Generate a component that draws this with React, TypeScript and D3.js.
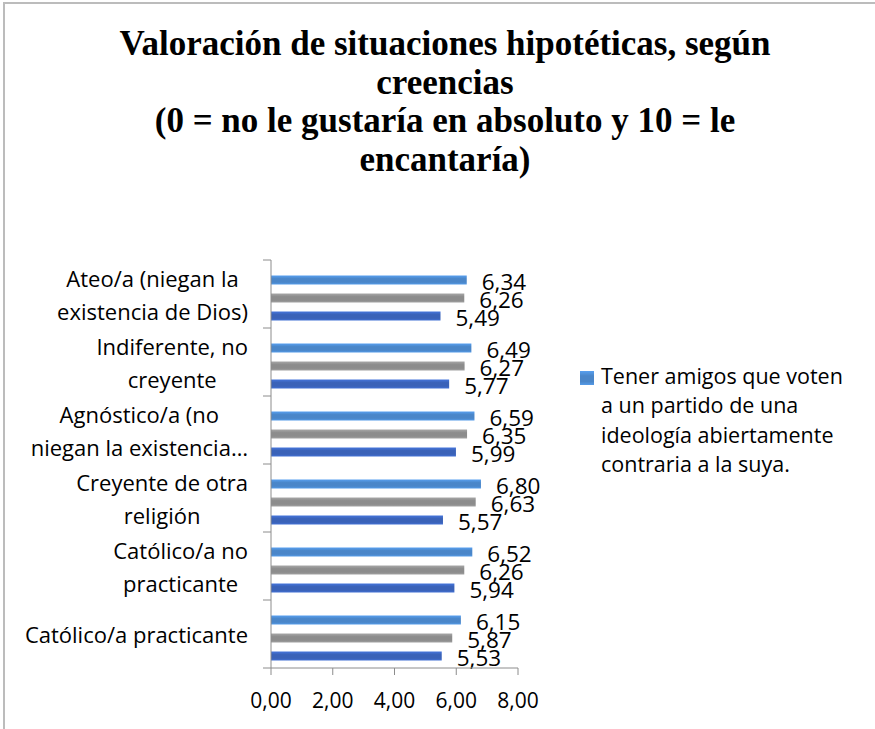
import { useEffect, useRef } from 'react';
import * as d3 from 'd3';

const W = 875;
const H = 729;

const titleLines = [
  'Valoración de situaciones hipotéticas, según',
  'creencias',
  '(0 = no le gustaría en absoluto y 10 = le',
  'encantaría)',
];

const categories = [
  'Ateo/a (niegan la existencia de Dios)',
  'Indiferente, no creyente',
  'Agnóstico/a (no niegan la existencia de Dios)',
  'Creyente de otra religión',
  'Católico/a no practicante',
  'Católico/a practicante',
];

// wrapped the way the original axis shows them
const categoryLines = [
  ['Ateo/a (niegan la', 'existencia de Dios)'],
  ['Indiferente, no', 'creyente'],
  ['Agnóstico/a (no', 'niegan la existencia…'],
  ['Creyente de otra', 'religión'],
  ['Católico/a no', 'practicante'],
  ['Católico/a practicante'],
];

const series = ['s1', 's2', 's3'];
const seriesValues = [
  [6.34, 6.49, 6.59, 6.80, 6.52, 6.15],
  [6.26, 6.27, 6.35, 6.63, 6.26, 5.87],
  [5.49, 5.77, 5.99, 5.57, 5.94, 5.53],
];
const seriesColors = ['#4a86c9', '#8c8c8c', '#3a62b8'];

const xTicks = [0, 2, 4, 6, 8];

const legendLines = [
  'Tener amigos que voten',
  'a un partido de una',
  'ideología abiertamente',
  'contraria a la suya.',
];

const FONT = '"Open Sans", "Noto Sans", sans-serif';

export default function App() {
  const svgRef = useRef<SVGSVGElement>(null);

  useEffect(() => {
    if (!svgRef.current) return;
    const svg = d3.select(svgRef.current);
    svg.selectAll('*').remove();

    svg.append('rect').attr('width', W).attr('height', H).attr('fill', '#fff');
    // frame, only top and left edges show in the crop
    svg.append('rect')
      .attr('x', 4).attr('y', 3)
      .attr('width', W + 20).attr('height', H + 20)
      .attr('fill', 'none')
      .attr('stroke', '#bcbcbc')
      .attr('stroke-width', 2);

    const defs = svg.append('defs');
    seriesColors.forEach((c, i) => {
      const g = defs.append('linearGradient')
        .attr('id', `grad${i}`)
        .attr('x1', 0).attr('x2', 0).attr('y1', 0).attr('y2', 1);
      const base = d3.color(c)!;
      g.append('stop').attr('offset', '0%').attr('stop-color', d3.color(c)!.brighter(0.5).formatHex());
      g.append('stop').attr('offset', '35%').attr('stop-color', base.formatHex());
      g.append('stop').attr('offset', '75%').attr('stop-color', base.formatHex());
      g.append('stop').attr('offset', '100%').attr('stop-color', d3.color(c)!.brighter(0.4).formatHex());
    });

    // title
    svg.append('g')
      .selectAll('text')
      .data(titleLines)
      .join('text')
      .attr('x', 445)
      .attr('y', (_, i) => 55 + i * 38.5)
      .attr('text-anchor', 'middle')
      .attr('font-family', '"Liberation Serif", "Times New Roman", serif')
      .attr('font-weight', 'bold')
      .attr('font-size', 35)
      .attr('fill', '#000')
      .text(d => d);

    const plot = { left: 271, right: 518, top: 260, bottom: 668 };

    const x = d3.scaleLinear().domain([0, 8]).range([plot.left, plot.right]);
    const y0 = d3.scaleBand<string>().domain(categories).range([plot.top, plot.bottom]);
    const y1 = d3.scaleBand<string>()
      .domain(series)
      .range([15.5, 60.5])
      .paddingInner(0.5);

    const groups = svg.append('g')
      .selectAll('g')
      .data(categories)
      .join('g')
      .attr('transform', d => `translate(0,${y0(d)})`);

    groups.each(function (cat, ci) {
      const g = d3.select(this);
      series.forEach((s, si) => {
        const v = seriesValues[si][ci];
        g.append('rect')
          .attr('x', x(0))
          .attr('y', y1(s)!)
          .attr('width', x(v) - x(0))
          .attr('height', y1.bandwidth())
          .attr('fill', `url(#grad${si})`);
        g.append('text')
          .attr('x', x(v) + 15)
          .attr('y', y1(s)! + y1.bandwidth() / 2 + 1)
          .attr('dominant-baseline', 'central')
          .attr('font-family', FONT)
          .attr('font-size', 22.5)
          .attr('fill', '#000')
          .text(d3.format('.2f')(v).replace('.', ','));
      });
    });

    // axes
    const axisColor = '#8c8c8c';
    svg.append('line')
      .attr('x1', plot.left).attr('x2', plot.left)
      .attr('y1', plot.top).attr('y2', plot.bottom)
      .attr('stroke', axisColor);
    svg.append('g')
      .selectAll('line')
      .data([...categories.map(c => y0(c)!), plot.bottom])
      .join('line')
      .attr('x1', plot.left - 8).attr('x2', plot.left)
      .attr('y1', d => d).attr('y2', d => d)
      .attr('stroke', axisColor);

    svg.append('line')
      .attr('x1', plot.left).attr('x2', plot.right)
      .attr('y1', plot.bottom).attr('y2', plot.bottom)
      .attr('stroke', axisColor);
    svg.append('g')
      .selectAll('line')
      .data(xTicks)
      .join('line')
      .attr('x1', d => x(d)).attr('x2', d => x(d))
      .attr('y1', plot.bottom).attr('y2', plot.bottom + 7)
      .attr('stroke', axisColor);
    svg.append('g')
      .selectAll('text')
      .data(xTicks)
      .join('text')
      .attr('x', d => x(d))
      .attr('y', 708)
      .attr('text-anchor', 'middle')
      .attr('font-family', FONT)
      .attr('font-size', 21)
      .attr('fill', '#000')
      .text(d => d3.format('.2f')(d).replace('.', ','));

    // category labels: each block centred, block right-aligned to the axis
    const labelRight = 248;
    const lineGap = 33;
    categories.forEach((cat, ci) => {
      const lines = categoryLines[ci];
      const cy = y0(cat)! + y0.bandwidth() / 2;
      const g = svg.append('g');
      const texts = g.selectAll('text')
        .data(lines)
        .join('text')
        .attr('y', (_, i) => cy + (i - (lines.length - 1) / 2) * lineGap)
        .attr('dominant-baseline', 'central')
        .attr('text-anchor', 'middle')
        .attr('font-family', FONT)
        .attr('font-size', 22)
        .attr('fill', '#000')
        .text(d => d);
      let maxW = 0;
      texts.each(function () {
        maxW = Math.max(maxW, (this as SVGTextElement).getComputedTextLength());
      });
      texts.attr('x', labelRight - maxW / 2);
    });

    // legend
    svg.append('rect')
      .attr('x', 580).attr('y', 371)
      .attr('width', 14).attr('height', 14)
      .attr('fill', `url(#grad0)`);
    svg.append('g')
      .selectAll('text')
      .data(legendLines)
      .join('text')
      .attr('x', 601)
      .attr('y', (_, i) => 384 + i * 29.3)
      .attr('font-family', FONT)
      .attr('font-size', 21.5)
      .attr('fill', '#000')
      .text(d => d);
  }, []);

  return (
    <svg
      ref={svgRef}
      width={W}
      height={H}
      style={{ position: 'absolute', left: 0, top: 0, display: 'block' }}
    />
  );
}
